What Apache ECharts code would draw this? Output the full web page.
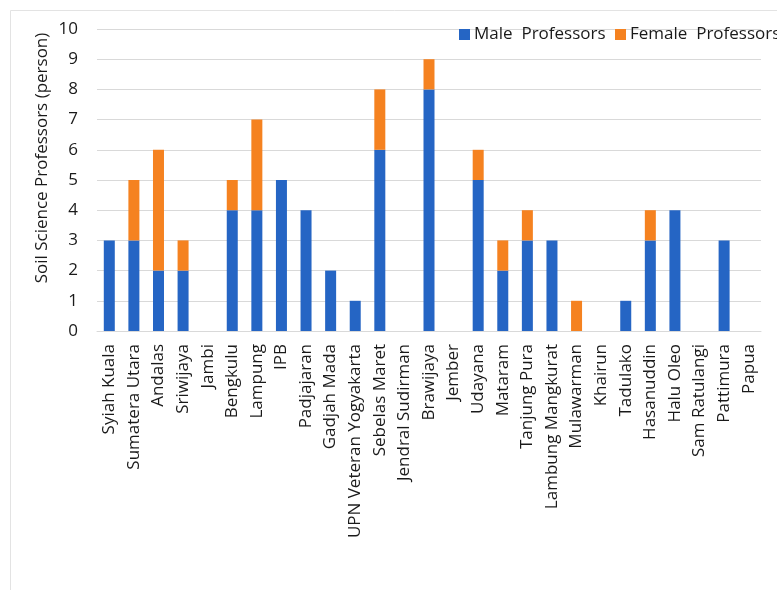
<!DOCTYPE html>
<html><head><meta charset="utf-8">
<script src="https://cdn.jsdelivr.net/npm/echarts@6/dist/echarts.min.js"></script>
<style>html,body{margin:0;padding:0;background:#fff}#c{width:777px;height:590px}</style>
</head><body><div id="c"></div>
<script>
const categories = ["Syiah Kuala","Sumatera Utara","Andalas","Sriwijaya","Jambi","Bengkulu","Lampung","IPB","Padjajaran","Gadjah Mada","UPN Veteran Yogyakarta","Sebelas Maret","Jendral Sudirman","Brawijaya","Jember","Udayana","Mataram","Tanjung Pura","Lambung Mangkurat","Mulawarman","Khairun","Tadulako","Hasanuddin","Halu Oleo","Sam Ratulangi","Pattimura","Papua"];
const maleProfessors =   [3,3,2,2,0,4,4,5,4,2,1,6,0,8,0,5,2,3,3,0,0,1,3,4,0,3,0];
const femaleProfessors = [0,2,4,1,0,1,3,0,0,0,0,2,0,1,0,1,1,1,0,1,0,0,1,0,0,0,0];
const yTicks = [0,1,2,3,4,5,6,7,8,9,10];

const font = '"Open Sans", "Noto Sans", sans-serif';
const legendBase = {
  top:21, itemWidth:11, itemHeight:11, itemGap:8, icon:'rect', width:400,
  textStyle:{fontFamily:font, fontSize:17, color:'#1a1a1a', padding:[0,0,0,-1]}
};
const chart = echarts.init(document.getElementById('c'), null, {renderer:'canvas'});
chart.setOption({
  animation:false,
  graphic:[
    {type:'rect', shape:{x:10.5,y:10.5,width:800,height:600}, style:{fill:'none', stroke:'#e3e3e3', lineWidth:1}, silent:true},
    {type:'text', x:42, y:158, rotation:Math.PI/2, style:{text:'Soil Science Professors (person)', font:'17px '+font, fill:'#1a1a1a', align:'center', verticalAlign:'middle'}}
  ],
  legend:[
    Object.assign({left:454, data:['Male  Professors']}, legendBase),
    Object.assign({left:610, data:['Female  Professors']}, legendBase)
  ],
  grid:{left:97, right:16, top:29, bottom:259, containLabel:false},
  xAxis:{
    type:'category', data:categories,
    axisLine:{show:true, lineStyle:{color:'#d9d9d9', width:1}},
    axisTick:{show:false},
    axisLabel:{interval:0, rotate:90, fontFamily:font, fontSize:17, color:'#1a1a1a', margin:13}
  },
  yAxis:{
    type:'value', min:yTicks[0], max:yTicks[yTicks.length-1], interval:1,
    axisLine:{show:false}, axisTick:{show:false},
    axisLabel:{fontFamily:font, fontSize:17, color:'#1a1a1a', margin:19},
    splitLine:{lineStyle:{color:'#d9d9d9', width:1}}
  },
  series:[
    {name:'Male  Professors', type:'bar', stack:'t', data:maleProfessors, barWidth:11, itemStyle:{color:'#2565c4'}},
    {name:'Female  Professors', type:'bar', stack:'t', data:femaleProfessors, barWidth:11, itemStyle:{color:'#f58220'}}
  ]
});
</script></body></html>
